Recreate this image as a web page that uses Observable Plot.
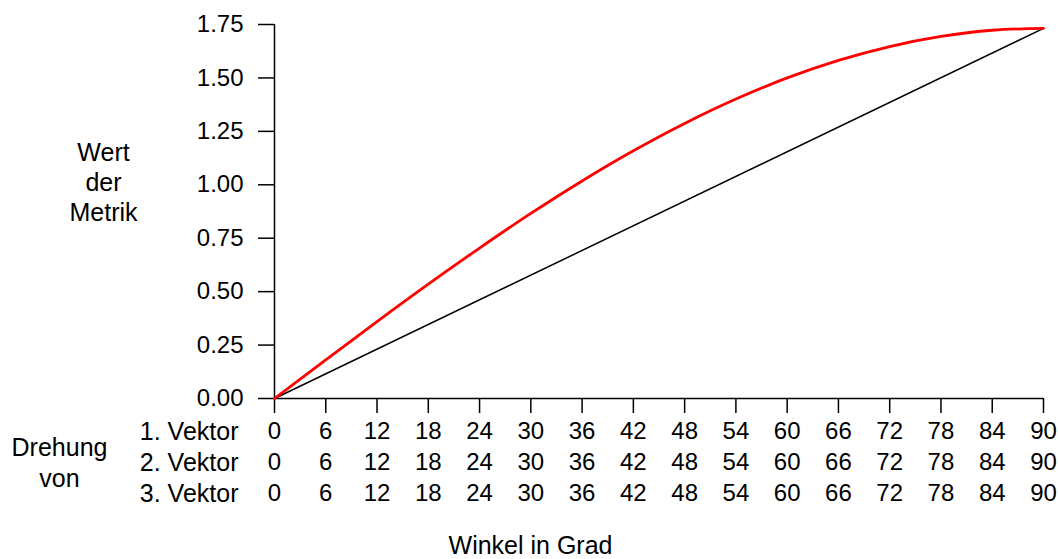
<!DOCTYPE html>
<html>
<head>
<meta charset="utf-8">
<script src="https://cdn.jsdelivr.net/npm/d3@7"></script>
<script src="https://cdn.jsdelivr.net/npm/@observablehq/plot@0.6"></script>
<style>
  html, body { margin: 0; padding: 0; background: #fff; }
  svg { display: block; }
</style>
</head>
<body>
<div id="chart"></div>
<script>
// Angles (degrees) for the red curve
const angles = [0, 6, 12, 18, 24, 30, 36, 42, 48, 54, 60, 66, 72, 78, 84, 90];
// Red curve: value of the metric
const metricValues = [0, 0.181, 0.360, 0.535, 0.704, 0.866, 1.018, 1.159, 1.287, 1.401, 1.500, 1.582, 1.647, 1.694, 1.723, 1.732];
// Black reference line (straight)
const lineAngles = [0, 90];
const lineValues = [0, 1.732];
// Ticks
const xTicks = [0, 6, 12, 18, 24, 30, 36, 42, 48, 54, 60, 66, 72, 78, 84, 90];
const yTicks = [0, 0.25, 0.5, 0.75, 1.0, 1.25, 1.5, 1.75];
const rowLabels = ["1. Vektor", "2. Vektor", "3. Vektor"];
const yTitle = "Wert\nder\nMetrik";
const rowTitle = "Drehung\nvon";
const xTitle = "Winkel in Grad";

const curve = angles.map((a, i) => ({a, v: metricValues[i]}));
const line = lineAngles.map((a, i) => ({a, v: lineValues[i]}));

const FS = 24;
const FW = 25;
const rowDy = [33, 64, 95];

const marks = [
  Plot.axisY({ticks: yTicks, tickSize: 16, tickPadding: 15, tickFormat: d => d.toFixed(2), fontSize: FS, strokeWidth: 1.5, label: null}),
  Plot.axisX({ticks: xTicks, tickSize: 15, tickFormat: () => "", strokeWidth: 1.5, label: null}),
  Plot.ruleX([0], {stroke: "black", strokeWidth: 1.5}),
  Plot.ruleY([0], {stroke: "black", strokeWidth: 1.5}),
  Plot.line(line, {x: "a", y: "v", stroke: "black", strokeWidth: 1.5}),
  Plot.line(curve, {x: "a", y: "v", stroke: "red", strokeWidth: 2.8, curve: "catmull-rom"}),
];
rowLabels.forEach((lab, r) => {
  marks.push(Plot.text(xTicks, {x: d => d, text: d => String(d), frameAnchor: "bottom", dy: rowDy[r], lineAnchor: "middle", fontSize: FS, fill: "black"}));
  marks.push(Plot.text([lab], {text: d => d, frameAnchor: "bottom-left", dx: -36, dy: rowDy[r], textAnchor: "end", lineAnchor: "middle", fontSize: FW, fill: "black"}));
});
marks.push(Plot.text([yTitle], {text: d => d, frameAnchor: "left", dx: -171, dy: -30, textAnchor: "middle", lineAnchor: "middle", lineHeight: 1.2, fontSize: FW, fill: "black"}));
marks.push(Plot.text([rowTitle], {text: d => d, frameAnchor: "bottom-left", dx: -215, dy: 63, textAnchor: "middle", lineAnchor: "middle", lineHeight: 1.24, fontSize: FW, fill: "black"}));
marks.push(Plot.text([xTitle], {text: d => d, frameAnchor: "bottom-left", dx: 256, dy: 147, textAnchor: "middle", lineAnchor: "middle", fontSize: FW, fill: "black"}));

const chart = Plot.plot({
  width: 1058,
  height: 559,
  marginTop: 24,
  marginBottom: 161,
  marginLeft: 274,
  marginRight: 15,
  style: {fontFamily: "'Liberation Sans', Arial, Helvetica, sans-serif", fontSize: FS + "px", color: "black", background: "white", overflow: "visible"},
  x: {domain: [0, 90], axis: null},
  y: {domain: [0, 1.75], axis: null},
  marks
});
document.getElementById("chart").appendChild(chart);
</script>
</body>
</html>
